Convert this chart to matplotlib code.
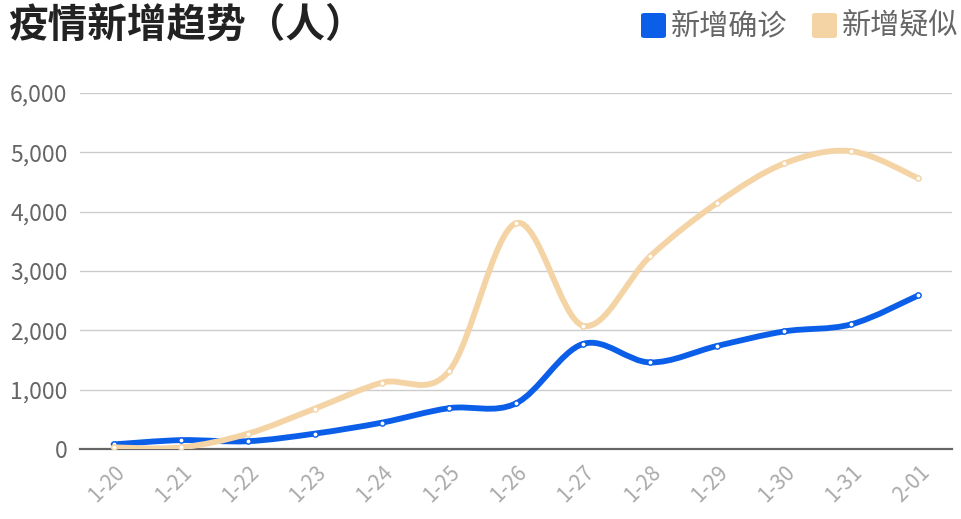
import matplotlib
matplotlib.use("Agg")
import matplotlib.pyplot as plt
import numpy as np
from matplotlib.path import Path
from matplotlib.patches import PathPatch, FancyBboxPatch
from matplotlib.ticker import FuncFormatter

plt.rcParams['font.family'] = ['Noto Sans CJK SC', 'DejaVu Sans']

dates = ['1-20', '1-21', '1-22', '1-23', '1-24', '1-25', '1-26',
         '1-27', '1-28', '1-29', '1-30', '1-31', '2-01']
confirmed = [77, 149, 131, 259, 444, 688, 769, 1771, 1459, 1737, 1982, 2102, 2590]
suspected = [27, 26, 257, 680, 1118, 1309, 3806, 2077, 3248, 4148, 4812, 5019, 4562]
y_ticks = [0, 1000, 2000, 3000, 4000, 5000, 6000]

title = '疫情新增趋势（人）'
names = ['新增确诊', '新增疑似']
colors = ['#0a5ee8', '#f4d3a5']


def smooth_path(xs, ys):
    # Catmull-Rom spline through the points, as cubic bezier segments
    pts = np.column_stack([xs, ys]).astype(float)
    n = len(pts)
    verts = [pts[0]]
    codes = [Path.MOVETO]
    for i in range(n - 1):
        p0 = pts[max(i - 1, 0)]
        p1 = pts[i]
        p2 = pts[i + 1]
        p3 = pts[min(i + 2, n - 1)]
        c1 = p1 + (p2 - p0) / 6.0
        c2 = p2 - (p3 - p1) / 6.0
        verts += [c1, c2, p2]
        codes += [Path.CURVE4] * 3
    return Path(verts, codes)


fig = plt.figure(figsize=(9.62, 5.19), dpi=100)
ax = fig.add_axes([0.0832, 0.1349, 0.9064, 0.6859])

x = np.arange(len(dates))
ax.set_xlim(-0.5, len(dates) - 0.5)
ax.set_ylim(0, 6000)

for vals, c, z in [(confirmed, colors[0], 3), (suspected, colors[1], 4)]:
    patch = PathPatch(smooth_path(x, vals), facecolor='none', edgecolor=c,
                      lw=4.2, capstyle='round', joinstyle='round', zorder=z)
    ax.add_patch(patch)
    ax.plot(x, vals, 'o', ms=3.8, mfc='white', mec=c, mew=1.0, zorder=z + 0.5)

ax.set_yticks(y_ticks)
ax.yaxis.set_major_formatter(FuncFormatter(lambda v, p: f'{int(v):,}'))
ax.set_xticks(x)
ax.set_xticklabels(dates, rotation=45, ha='right', rotation_mode='anchor')

ax.grid(axis='y', color='#cccccc', lw=1.0)
ax.set_axisbelow(True)
for s in ['top', 'right', 'left']:
    ax.spines[s].set_visible(False)
ax.spines['bottom'].set_color('#666666')
ax.spines['bottom'].set_linewidth(1.6)
ax.tick_params(axis='y', length=0, pad=9, labelsize=16.5, labelcolor='#666666')
ax.tick_params(axis='x', length=0, pad=9, labelsize=15, labelcolor='#aaaaaa')

fig.text(0.008, 0.952, title, fontsize=28.5, fontweight='bold', color='#222222',
         va='center', ha='left')

# legend
for i, (nm, c) in enumerate(zip(names, colors)):
    x0 = 641 + i * 171
    box = FancyBboxPatch((x0 / 962, 1 - 38 / 519), 25 / 962, 25 / 519,
                         boxstyle='round,pad=0,rounding_size=0.004',
                         transform=fig.transFigure, facecolor=c, edgecolor='none')
    fig.patches.append(box)
    fig.text((x0 + 30) / 962, 1 - 26 / 519, nm, fontsize=21, color='#666666',
             va='center', ha='left')

fig.savefig('out.png', dpi=100)
